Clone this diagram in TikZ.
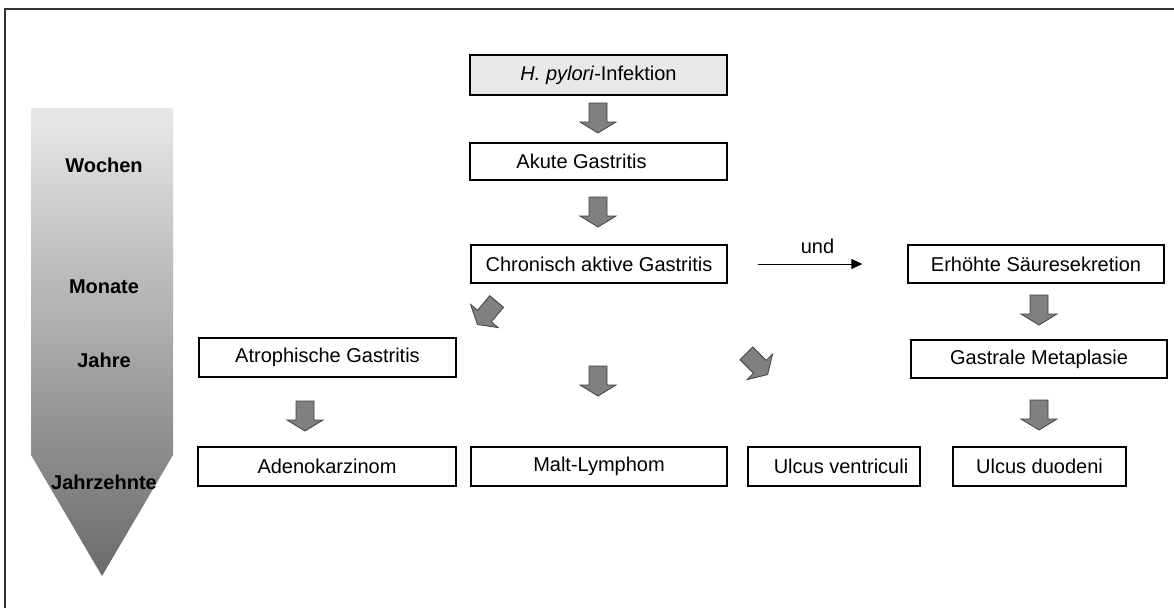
\documentclass[tikz,border=0pt]{standalone}
\usepackage{fontspec}
\setmainfont{Liberation Sans}
\usetikzlibrary{arrows.meta}
\tikzset{
  box/.style={draw=black, line width=1.4pt, fill=white, minimum height=38pt, inner sep=0pt, font=\fontsize{20}{24}\selectfont},
  startbox/.style={box, fill=black!9},
  lbl/.style={font=\bfseries\fontsize{20}{24}\selectfont, inner sep=0pt},
  txt/.style={font=\fontsize{20}{24}\selectfont, inner sep=0pt},
  barrow/.pic={\draw[fill=black!50, draw=black!75, line width=0.8pt] (-9,-15) -- (9,-15) -- (9,4) -- (18,4) -- (0,15) -- (-18,4) -- (-9,4) -- cycle;},
  thin arrow/.style={line width=1pt, -{Triangle[length=11pt,width=10pt]}},
}
\begin{document}
\begin{tikzpicture}[x=1pt,y=-1pt]
\useasboundingbox (0,0) rectangle (1174,608);
% frame
\draw[line width=1.2pt, black!80] (5,608) -- (5,9) -- (1174,9);
% time arrow
\shade[top color=black!9, bottom color=black!58] (31,108) -- (173,108) -- (173,455) -- (102,576) -- (31,455) -- cycle;
\node[lbl] (wochen) at (104,165) {Wochen};
\node[lbl] (monate) at (104,287) {Monate};
\node[lbl] (jahre) at (104,360) {Jahre};
\node[lbl] (jahrz) at (104,482) {Jahrzehnte};
% boxes
\node[startbox, minimum width=257pt, minimum height=40pt] (hp) at (598.5,75) {\textit{H. pylori}-Infektion};
\node[box, minimum width=257pt, minimum height=37pt] (akut) at (598.5,161.5) {Akute Gastritis\hspace*{34pt}};
\node[box, minimum width=256pt] (chron) at (599,264) {Chronisch aktive Gastritis};
\node[box, minimum width=256pt] (erh) at (1036,264) {Erhöhte Säuresekretion};
\node[box, minimum width=257pt, minimum height=39pt] (atro) at (327.5,357.5) {Atrophische Gastritis};
\node[box, minimum width=256pt, minimum height=38pt] (gastr) at (1039,359) {Gastrale Metaplasie};
\node[box, minimum width=258pt, minimum height=39pt] (adeno) at (327,466.5) {Adenokarzinom};
\node[box, minimum width=256pt, minimum height=39pt] (malt) at (599,466.5) {Malt-Lymphom};
\node[box, minimum width=172pt, minimum height=39pt] (uv) at (834,466.5) {\hspace*{14pt}Ulcus ventriculi};
\node[box, minimum width=173pt, minimum height=39pt] (ud) at (1039.5,466.5) {Ulcus duodeni};
% connector und
\draw[thin arrow, shorten <=30pt, shorten >=45pt] (chron.east) -- node[txt, above=10pt] {und} (erh.west);
% block arrows
\pic at (598,118) {barrow};
\pic at (598,212) {barrow};
\pic at (598,381) {barrow};
\pic at (305,416) {barrow};
\pic at (1039,310) {barrow};
\pic at (1039,415) {barrow};
\pic[rotate=-40] at (487,313) {barrow};
\pic[rotate=45] at (757,364) {barrow};
\end{tikzpicture}
\end{document}
